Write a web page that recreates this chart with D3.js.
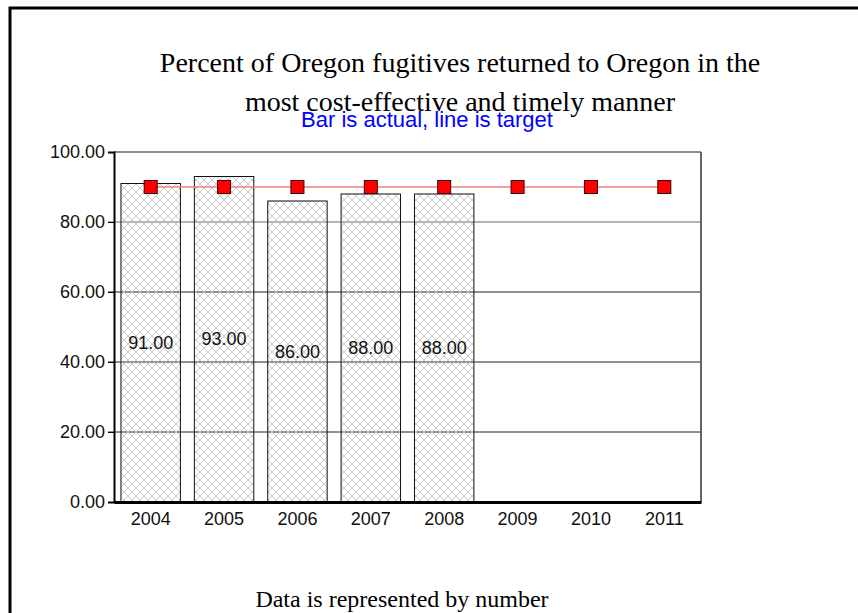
<!DOCTYPE html>
<html>
<head>
<meta charset="utf-8">
<script src="https://cdn.jsdelivr.net/npm/d3@7"></script>
<style>
  html, body { margin: 0; padding: 0; background: #fff; }
  svg { display: block; }
</style>
</head>
<body>
<svg id="chart" width="858" height="613"></svg>
<script>
const categories = ["2004", "2005", "2006", "2007", "2008", "2009", "2010", "2011"];
const actualValues = [91, 93, 86, 88, 88, null, null, null];
const targetValues = [90, 90, 90, 90, 90, 90, 90, 90];
const yTicks = [0, 20, 40, 60, 80, 100];
const titleLines = ["Percent of Oregon fugitives returned to Oregon in the", "most cost-effective and timely manner"];
const subtitle = "Bar is actual, line is target";
const footer = "Data is represented by number";

(function () {
const svg = d3.select("#chart");
const W = 858, H = 613;

// outer frame
svg.append("rect").attr("x", 10).attr("y", 8).attr("width", W).attr("height", H)
  .attr("fill", "none").attr("stroke", "#000").attr("stroke-width", 3);

const pLeft = 114, pRight = 701, pTop = 152, pBottom = 502;

const x = d3.scaleBand().domain(categories).range([pLeft, pRight]).paddingInner(0.19).paddingOuter(0.095);
const y = d3.scaleLinear().domain([0, 100]).range([pBottom, pTop]);

// hatch pattern
const defs = svg.append("defs");
const pat = defs.append("pattern").attr("id", "hatch").attr("patternUnits", "userSpaceOnUse")
  .attr("width", 8).attr("height", 8);
pat.append("path").attr("d", "M0,0 L8,8 M8,0 L0,8 M-1,7 L1,9 M7,-1 L9,1 M-1,1 L1,-1 M7,9 L9,7")
  .attr("stroke", "#c4c4c4").attr("stroke-width", 0.9).attr("fill", "none");

// gridlines
const grid = svg.append("g");
grid.selectAll("line").data(yTicks.filter(d => d > 0 && d < 100)).join("line")
  .attr("x1", pLeft - 6).attr("x2", pRight)
  .attr("y1", d => y(d)).attr("y2", d => y(d))
  .attr("stroke", d => (d === 80 ? "#6a6a6a" : "#222")).attr("stroke-width", 1);

// plot frame top and right
svg.append("line").attr("x1", pLeft).attr("x2", pRight).attr("y1", pTop).attr("y2", pTop)
  .attr("stroke", "#666").attr("stroke-width", 1.5);
svg.append("line").attr("x1", pRight).attr("x2", pRight).attr("y1", pTop).attr("y2", pBottom)
  .attr("stroke", "#666").attr("stroke-width", 2);

// bars
const barData = categories.map((c, i) => ({c, v: actualValues[i]})).filter(d => d.v != null);
svg.append("g").selectAll("rect").data(barData).join("rect")
  .attr("x", d => x(d.c)).attr("width", x.bandwidth())
  .attr("y", d => y(d.v)).attr("height", d => y(0) - y(d.v))
  .attr("fill", "url(#hatch)").attr("stroke", "#111").attr("stroke-width", 1);

// bar labels
svg.append("g").selectAll("text").data(barData).join("text")
  .attr("x", d => x(d.c) + x.bandwidth() / 2)
  .attr("y", d => y(d.v / 2))
  .attr("text-anchor", "middle").attr("dominant-baseline", "central")
  .attr("font-family", "Liberation Sans, Arial, sans-serif").attr("font-size", 18)
  .attr("fill", "#111")
  .text(d => d.v.toFixed(2));

// target line
const line = d3.line().x((d, i) => x(categories[i]) + x.bandwidth() / 2).y(d => y(d));
svg.append("path").datum(targetValues).attr("d", line)
  .attr("fill", "none").attr("stroke", "#f08080").attr("stroke-width", 1.5);
svg.append("g").selectAll("rect").data(targetValues).join("rect")
  .attr("x", (d, i) => x(categories[i]) + x.bandwidth() / 2 - 6.5)
  .attr("y", d => y(d) - 6.5).attr("width", 13).attr("height", 13)
  .attr("fill", "#ff0000").attr("stroke", "#400").attr("stroke-width", 1);

// y axis
const yAxis = d3.axisLeft(y).tickValues(yTicks).tickFormat(d => d.toFixed(2)).tickSize(6).tickPadding(3);
const ya = svg.append("g").attr("transform", `translate(${pLeft},0)`).call(yAxis);
ya.select(".domain").attr("stroke", "#000").attr("stroke-width", 2);
ya.selectAll(".tick line").attr("stroke", "#000");
ya.selectAll("text").attr("font-family", "Liberation Sans, Arial, sans-serif").attr("font-size", 18).attr("fill", "#111");

// x axis
const xAxis = d3.axisBottom(x).tickSize(0).tickPadding(10);
const xa = svg.append("g").attr("transform", `translate(0,${pBottom})`).call(xAxis);
xa.select(".domain").attr("stroke", "#000").attr("stroke-width", 3);
xa.selectAll("text").attr("font-family", "Liberation Sans, Arial, sans-serif").attr("font-size", 18).attr("fill", "#111");

// titles
svg.append("g").selectAll("text").data(titleLines).join("text")
  .attr("x", 460).attr("y", (d, i) => 72 + i * 39)
  .attr("text-anchor", "middle")
  .attr("font-family", "Liberation Serif, Times New Roman, serif").attr("font-size", 28)
  .attr("fill", "#000").text(d => d);

svg.append("text").attr("x", 427).attr("y", 127).attr("text-anchor", "middle")
  .attr("font-family", "Liberation Sans, Arial, sans-serif").attr("font-size", 22)
  .attr("fill", "#0000ff").text(subtitle);

svg.append("text").attr("x", 402).attr("y", 607).attr("text-anchor", "middle")
  .attr("font-family", "Liberation Serif, Times New Roman, serif").attr("font-size", 24)
  .attr("fill", "#000").text(footer);
})();
</script>
</body>
</html>
